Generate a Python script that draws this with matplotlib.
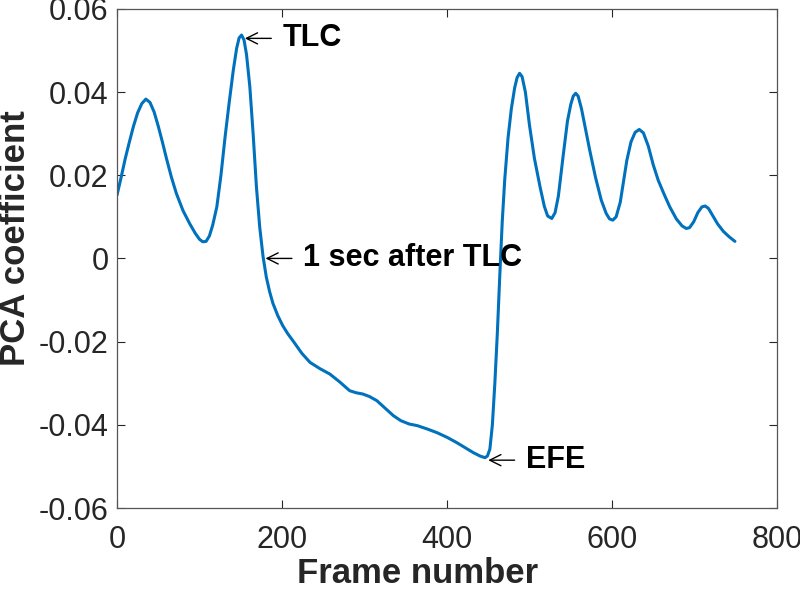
import matplotlib
matplotlib.use("Agg")
import matplotlib.pyplot as plt

# Data (frame number, PCA coefficient)
frame = [0, 5, 10, 15, 20, 25, 30, 35, 40, 45, 50, 55, 60, 66, 72, 80, 88, 95,
         100, 104, 108, 112, 116, 121, 126, 131, 136, 141, 145, 148, 151, 154,
         157, 161, 165, 169, 173, 177, 181, 185, 189, 195, 201, 207, 214, 224,
         234, 246, 258, 270, 282, 290, 298, 306, 315, 325, 335, 344, 354, 364,
         376, 388, 400, 412, 422, 432, 440, 446, 449, 452, 455, 458, 461, 464,
         467, 470, 474, 478, 482, 485, 488, 491, 495, 500, 506, 513, 518, 522,
         527, 531, 535, 541, 546, 550, 553, 556, 559, 563, 568, 573, 580, 587,
         593, 597, 601, 605, 610, 614, 618, 623, 628, 633, 638, 644, 650, 656,
         663, 670, 678, 685, 690, 694, 699, 704, 709, 713, 717, 722, 728, 735,
         742, 749]
coef = [0.0152, 0.0195, 0.0240, 0.0280, 0.0318, 0.0350, 0.0372, 0.0383, 0.0375,
        0.0352, 0.0318, 0.0280, 0.0240, 0.0195, 0.0156, 0.0115, 0.0084, 0.0060,
        0.0046, 0.0040, 0.0041, 0.0054, 0.0080, 0.0124, 0.0200, 0.0292, 0.0375,
        0.0453, 0.0505, 0.0530, 0.0537, 0.0525,
        0.0490, 0.0413, 0.0300, 0.0172, 0.0075, 0.0005, -0.0045, -0.0080,
        -0.0108, -0.0138, -0.0162, -0.0181, -0.0200, -0.0228,
        -0.0250, -0.0265, -0.0278, -0.0297, -0.0318, -0.0323, -0.0326, -0.0332,
        -0.0342, -0.0360, -0.0378, -0.0390, -0.0398, -0.0402,
        -0.0410, -0.0419, -0.0430, -0.0443, -0.0455, -0.0467, -0.0475, -0.0479,
        -0.0475, -0.0458, -0.0400, -0.0300, -0.0180, -0.0040,
        0.0090, 0.0190, 0.0290, 0.0360, 0.0410, 0.0435, 0.0445, 0.0437, 0.0400,
        0.0320, 0.0240, 0.0170, 0.0125, 0.0102,
        0.0096, 0.0110, 0.0150, 0.0250, 0.0330, 0.0370, 0.0390, 0.0397, 0.0390,
        0.0360, 0.0310, 0.0260, 0.0195, 0.0140,
        0.0108, 0.0095, 0.0092, 0.0100, 0.0135, 0.0185, 0.0236, 0.0280, 0.0303,
        0.0310, 0.0302, 0.0270, 0.0225, 0.0188,
        0.0155, 0.0124, 0.0095, 0.0078, 0.0072, 0.0074, 0.0088, 0.0110, 0.0124,
        0.0126, 0.0120, 0.0103, 0.0083, 0.0065,
        0.0052, 0.0041]

xticks = [0, 200, 400, 600, 800]
xticklabels = ["0", "200", "400", "600", "800"]
yticks = [-0.06, -0.04, -0.02, 0, 0.02, 0.04, 0.06]
yticklabels = ["-0.06", "-0.04", "-0.02", "0", "0.02", "0.04", "0.06"]

# annotations: (label, arrow tip frame, arrow tip value)
notes = [("TLC", 155, 0.0529),
         ("1 sec after TLC", 180, 0.0000),
         ("EFE", 450, -0.0485)]

plt.rcParams['font.family'] = ['Liberation Sans', 'DejaVu Sans']

fig = plt.figure(figsize=(8.0, 5.89), dpi=100)
ax = fig.add_axes([0.14625, 0.1375, 0.825, 0.8475])

ax.plot(frame, coef, color='#0072BD', lw=2.2, solid_capstyle='round',
        solid_joinstyle='round')

ax.set_xlim(0, 800)
ax.set_ylim(-0.06, 0.06)
ax.set_xticks(xticks)
ax.set_xticklabels(xticklabels)
ax.set_yticks(yticks)
ax.set_yticklabels(yticklabels)

ax.tick_params(direction='in', length=6, width=0.8, color='#262626',
               top=True, right=True, labelsize=22, labelcolor='#262626')
ax.tick_params(axis='y', pad=6)
ax.tick_params(axis='x', pad=12)
for s in ax.spines.values():
    s.set_color('#555555')
    s.set_linewidth(0.9)

ax.set_xlabel("Frame number", fontsize=25, fontweight='bold', color='#262626')
ax.set_ylabel("PCA coefficient", fontsize=25, fontweight='bold', color='#262626')
ax.xaxis.set_label_coords(0.455, -0.099)
ax.yaxis.set_label_coords(-0.129, 0.54)

for label, tx, ty in notes:
    ax.annotate('', xy=(tx, ty), xytext=(tx + 32, ty),
                arrowprops=dict(arrowstyle='->', color='black', lw=1.0,
                                mutation_scale=20, shrinkA=0, shrinkB=0))
    ax.text(tx + 46, ty, label, fontsize=22, fontweight='bold', color='black',
            va='center', ha='left')

fig.savefig("out.png", dpi=100)
